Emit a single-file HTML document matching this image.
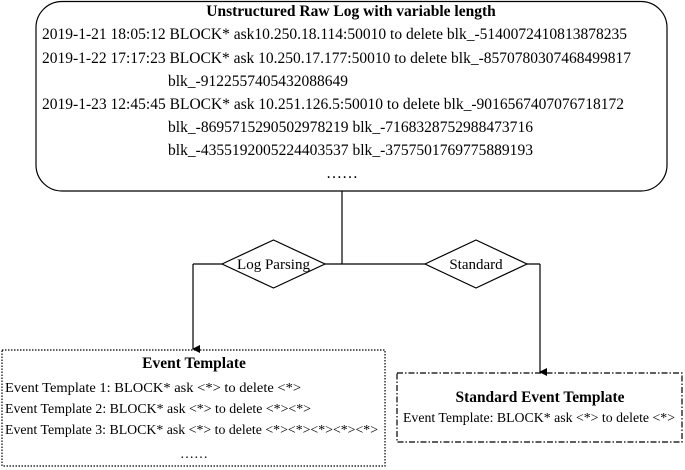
<!DOCTYPE html>
<html><head><meta charset="utf-8"><style>
html,body{margin:0;padding:0;background:#fff;}
svg{display:block;font-family:"Liberation Serif",serif;}
</style></head><body>
<svg width="685" height="470" viewBox="0 0 685 470" xmlns="http://www.w3.org/2000/svg">
<defs><marker id="a" markerWidth="8" markerHeight="8" refX="4" refY="7" orient="auto" markerUnits="userSpaceOnUse"><path d="M0,0 L8,0 L4,8 z" fill="#000"/></marker></defs>
<rect x="36" y="1.5" width="631" height="189.5" rx="26" fill="#fff" stroke="#000" stroke-width="1.2"/>
<g font-size="16" fill="#000">
<text x="351" y="16" text-anchor="middle" font-weight="bold" font-size="15.5">Unstructured Raw Log with variable length</text>
<text x="42" y="39" textLength="585" lengthAdjust="spacingAndGlyphs">2019-1-21 18:05:12 BLOCK* ask10.250.18.114:50010 to delete blk_-5140072410813878235</text>
<text x="42" y="63" textLength="589" lengthAdjust="spacingAndGlyphs">2019-1-22 17:17:23 BLOCK* ask 10.250.17.177:50010 to delete blk_-8570780307468499817</text>
<text x="168" y="86" textLength="180" lengthAdjust="spacingAndGlyphs">blk_-9122557405432088649</text>
<text x="42" y="109" textLength="582" lengthAdjust="spacingAndGlyphs">2019-1-23 12:45:45 BLOCK* ask 10.251.126.5:50010 to delete blk_-9016567407076718172</text>
<text x="168" y="132" textLength="365" lengthAdjust="spacingAndGlyphs">blk_-8695715290502978219 blk_-7168328752988473716</text>
<text x="168" y="155" textLength="365" lengthAdjust="spacingAndGlyphs">blk_-4355192005224403537 blk_-3757501769775889193</text>
<text x="342" y="178" text-anchor="middle">……</text>
</g>
<g stroke="#000" stroke-width="1.2" fill="none">
<line x1="342" y1="191" x2="342" y2="264"/>
<line x1="193" y1="264" x2="540" y2="264"/>
<line x1="193" y1="264" x2="193" y2="349" marker-end="url(#a)"/>
<line x1="540" y1="264" x2="540" y2="372" marker-end="url(#a)"/>
<polygon points="222,264 273.5,240 325,264 273.5,288" fill="#fff"/>
<polygon points="425,264 476,240 527,264 476,288" fill="#fff"/>
<rect x="2" y="350" width="383" height="116" stroke-dasharray="1.5,1.5"/>
<rect x="397" y="373" width="285" height="69" stroke-dasharray="6,2,1.5,2"/>
</g>
<g font-size="15" fill="#000">
<text x="273.5" y="269" text-anchor="middle">Log Parsing</text>
<text x="476" y="269" text-anchor="middle">Standard</text>
</g>
<g font-size="14" fill="#000">
<text x="194" y="368" text-anchor="middle" font-weight="bold" font-size="15.5">Event Template</text>
<text x="5" y="392" textLength="296" lengthAdjust="spacingAndGlyphs">Event Template 1: BLOCK* ask &lt;*&gt; to delete &lt;*&gt;</text>
<text x="5" y="413" textLength="306" lengthAdjust="spacingAndGlyphs">Event Template 2: BLOCK* ask &lt;*&gt; to delete &lt;*&gt;&lt;*&gt;</text>
<text x="5" y="434" textLength="373" lengthAdjust="spacingAndGlyphs">Event Template 3: BLOCK* ask &lt;*&gt; to delete &lt;*&gt;&lt;*&gt;&lt;*&gt;&lt;*&gt;&lt;*&gt;</text>
<text x="194" y="458" text-anchor="middle">……</text>
<text x="540" y="402" text-anchor="middle" font-weight="bold" font-size="15.5" textLength="169" lengthAdjust="spacingAndGlyphs">Standard Event Template</text>
<text x="403" y="422" textLength="272" lengthAdjust="spacingAndGlyphs">Event Template: BLOCK* ask &lt;*&gt; to delete &lt;*&gt;</text>
</g>
</svg>
</body></html>
